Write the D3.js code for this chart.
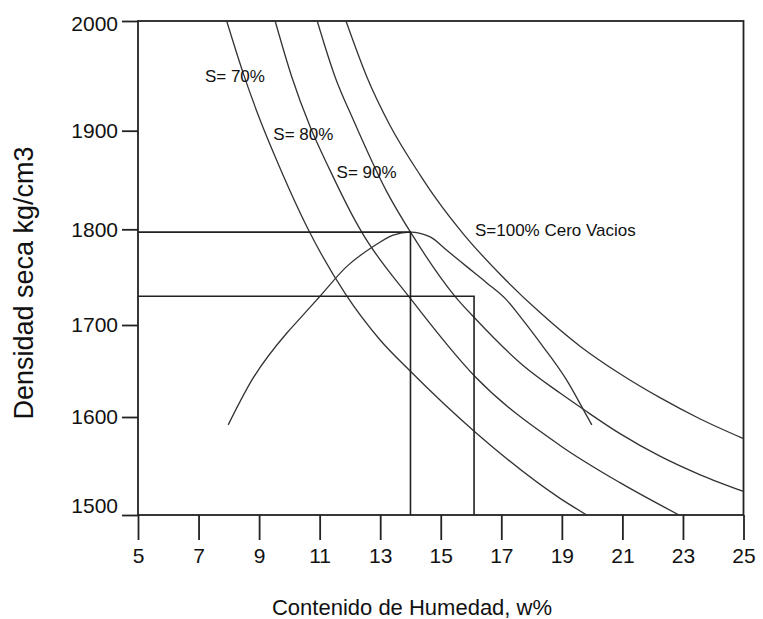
<!DOCTYPE html>
<html>
<head>
<meta charset="utf-8">
<script src="https://cdn.jsdelivr.net/npm/d3@7"></script>
<style>
body { margin: 0; background: #fff; }
text { font-family: "Liberation Sans", Arial, sans-serif; fill: #111; }
</style>
</head>
<body>
<svg width="763" height="619"></svg>
<script>
// DATA
const xTicks = [5, 7, 9, 11, 13, 15, 17, 19, 21, 23, 25];
const yTicks = [1500, 1600, 1700, 1800, 1900, 2000];

// saturation curves: water content w% and dry density
const s70W = [7.93, 8.48, 9.03, 9.58, 10.62, 11.84, 12.99, 13.99, 16.16, 18.94, 19.82];
const s70D = [2000, 1952, 1910, 1870, 1800, 1733, 1684, 1650, 1584, 1517, 1500];

const s80W = [9.53, 10.08, 10.68, 11.34, 12.17, 12.39, 13.99, 16.13, 18.94, 20.92, 22.87];
const s80D = [2000, 1949, 1904, 1860, 1809, 1797, 1728, 1644, 1571, 1533, 1500];

const s90W = [10.92, 11.51, 12.11, 13.22, 14.10, 15.47, 16.13, 17.72, 18.94, 19.77, 20.92, 22.24, 23.57, 25];
const s90D = [2000, 1949, 1910, 1838, 1792, 1730, 1707, 1656, 1626, 1607, 1583, 1560, 1541, 1524];

const s100W = [11.87, 12.56, 13.32, 14.32, 14.87, 15.75, 16.96, 18.28, 19.60, 20.92, 22.24, 23.57, 25];
const s100D = [2000, 1949, 1905, 1855, 1830, 1795, 1753, 1713, 1677, 1647, 1621, 1598, 1578];

// compaction curve
const compW = [7.98, 8.76, 9.91, 10.24, 11.01, 11.89, 12.77, 13.43, 13.99, 14.65, 15.20, 15.86, 16.52, 17.18, 17.67, 18.39, 19.16, 19.71, 19.99];
const compD = [1592, 1640, 1691, 1703, 1730, 1761, 1782, 1794, 1797, 1792, 1778, 1761, 1744, 1726, 1707, 1676, 1640, 1608, 1592];

// reference lines (optimum and field value)
const refW = [14, 16.1];
const refD = [1797, 1730];

// curve labels, anchored at data coordinates
const labelText = ["S= 70%", "S= 80%", "S= 90%", "S=100% Cero Vacios"];
const labelW = [7.21, 9.47, 11.56, 16.13];
const labelD = [1944, 1891, 1852, 1793];

const svg = d3.select("svg");
const ink = "#222";

// SCALES (the printed y axis is not evenly spaced)
const x = d3.scaleLinear().domain([5, 25]).range([138, 743.5]);
const y = d3.scaleLinear().domain(yTicks).range([515, 417, 325, 229.3, 130.7, 21]);

// FRAME
svg.append("rect")
    .attr("x", x(5))
    .attr("y", y(2000))
    .attr("width", x(25) - x(5))
    .attr("height", y(1500) - y(2000))
    .attr("fill", "none")
    .attr("stroke", ink)
    .attr("stroke-width", 1.8);

// AXES
const xAxis = svg.append("g")
    .attr("transform", `translate(0,${y(1500)})`)
    .call(d3.axisBottom(x).tickValues(xTicks).tickFormat(d3.format("d"))
        .tickSize(25).tickPadding(8).tickSizeOuter(0));

const yAxis = svg.append("g")
    .attr("transform", `translate(${x(5)},0)`)
    .call(d3.axisLeft(y).tickValues(yTicks).tickFormat(d3.format("d"))
        .tickSize(16).tickPadding(4).tickSizeOuter(0));

[xAxis, yAxis].forEach(g => {
    g.select(".domain").remove();
    g.selectAll(".tick line").attr("stroke", ink).attr("stroke-width", 1.8);
    g.selectAll(".tick text")
        .attr("fill", "#111")
        .style("font-family", '"Liberation Sans", Arial, sans-serif')
        .style("font-size", "21px");
});

// end labels sit inside the frame corners
yAxis.selectAll(".tick text")
    .filter(d => d === 1500).attr("dy", "-0.1em");
yAxis.selectAll(".tick text")
    .filter(d => d === 2000).attr("dy", "0.47em");

// AXIS TITLES
svg.append("text")
    .attr("x", 412)
    .attr("y", 615)
    .attr("text-anchor", "middle")
    .style("font-size", "22px")
    .text("Contenido de Humedad, w%");

svg.append("text")
    .attr("transform", "translate(33,283) rotate(-90)")
    .attr("text-anchor", "middle")
    .style("font-size", "27px")
    .text("Densidad seca kg/cm3");

// CURVES
const line = d3.line()
    .x(d => x(d[0]))
    .y(d => y(d[1]))
    .curve(d3.curveMonotoneX);

const series = [
    [s70W, s70D],
    [s80W, s80D],
    [s90W, s90D],
    [s100W, s100D],
    [compW, compD]
];

svg.append("g")
    .selectAll("path")
    .data(series.map(s => d3.zip(s[0], s[1])))
    .join("path")
    .attr("d", line)
    .attr("fill", "none")
    .attr("stroke", "#333")
    .attr("stroke-width", 1.3);

// REFERENCE LINES
svg.append("g")
    .selectAll("path")
    .data(d3.zip(refW, refD))
    .join("path")
    .attr("d", d => `M${x(5)},${y(d[1])}H${x(d[0])}V${y(1500)}`)
    .attr("fill", "none")
    .attr("stroke", ink)
    .attr("stroke-width", 1.6);

// CURVE LABELS
svg.append("g")
    .selectAll("text")
    .data(d3.zip(labelText, labelW, labelD))
    .join("text")
    .attr("x", d => x(d[1]))
    .attr("y", d => y(d[2]))
    .style("font-size", "17px")
    .text(d => d[0]);
</script>
</body>
</html>
